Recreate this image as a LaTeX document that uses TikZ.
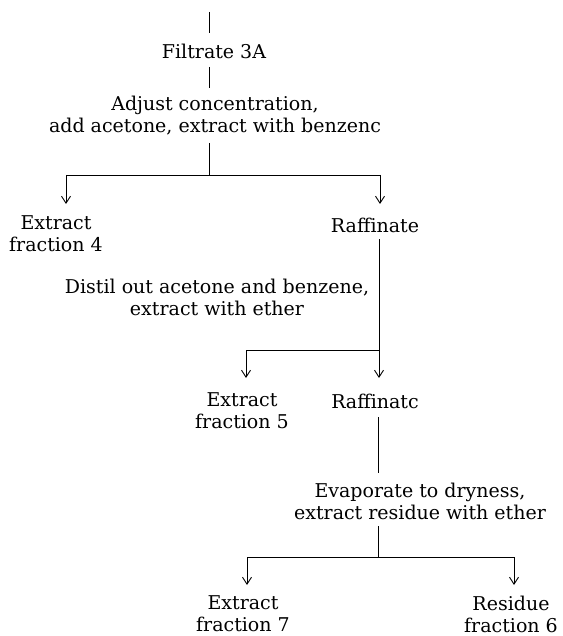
\documentclass[tikz,border=0pt]{standalone}
\usepackage{fontspec}
\setmainfont{DejaVu Serif}
\usetikzlibrary{arrows.meta}
\begin{document}
\begin{tikzpicture}[x=1pt,y=-1pt,
  lbl/.style={align=center, inner sep=0pt, font=\fontsize{19}{22}\selectfont},
  flow/.style={line width=0.8pt},
  arr/.style={flow, -{Straight Barb[length=7pt,width=9pt,line width=0.9pt]}}]
\useasboundingbox (0,0) rectangle (562,636);
% text
\node[lbl] (f3a) at (214,51) {Filtrate 3A};
\node[lbl] (adj) at (215,116) {Adjust concentration,\\add acetone, extract with benzenc};
\node[lbl] (ext4) at (56,234) {Extract\\fraction 4};
\node[lbl] (raf1) at (375,225) {Raffinate};
\node[lbl] (dist) at (217,297) {Distil out acetone and benzene,\\extract with ether};
\node[lbl] (ext5) at (242,411) {Extract\\fraction 5};
\node[lbl] (raf2) at (375,401) {Raffinatc};
\node[lbl] (evap) at (420,501) {Evaporate to dryness,\\extract residue with ether};
\node[lbl] (ext7) at (243,614) {Extract\\fraction 7};
\node[lbl] (res6) at (511,614) {Residue\\fraction 6};
% junction points
\coordinate (t0) at (209,12);
\coordinate (t1) at (209,33);
\coordinate (t2) at (209,67);
\coordinate (t3) at (209,88);
\coordinate (t4) at (209,143);
\coordinate (j1) at (209,175);
\coordinate (l1) at (66,175);
\coordinate (r1) at (380,175);
\coordinate (a1) at (66,204);
\coordinate (b1) at (380,204);
\coordinate (u2) at (379,239);
\coordinate (j2) at (379,350);
\coordinate (l2) at (246,350);
\coordinate (a2) at (246,378);
\coordinate (b2) at (379,378);
\coordinate (u3) at (378,417);
\coordinate (d3) at (378,473);
\coordinate (u4) at (378,526);
\coordinate (j4) at (378,557);
\coordinate (l4) at (247,557);
\coordinate (r4) at (514,557);
\coordinate (a4) at (247,585);
\coordinate (b4) at (514,585);
% connectors
\draw[flow] (t0) -- (t1);
\draw[flow] (t2) -- (t3);
\draw[flow] (t4) -- (j1);
\draw[flow] (l1) -- (r1);
\draw[arr] (l1) -- (a1);
\draw[arr] (r1) -- (b1);
\draw[flow] (u2) -- (j2) -- (l2);
\draw[arr] (l2) -- (a2);
\draw[arr] (j2) -- (b2);
\draw[flow] (u3) -- (d3);
\draw[flow] (u4) -- (j4);
\draw[flow] (l4) -- (r4);
\draw[arr] (l4) -- (a4);
\draw[arr] (r4) -- (b4);
\end{tikzpicture}
\end{document}
